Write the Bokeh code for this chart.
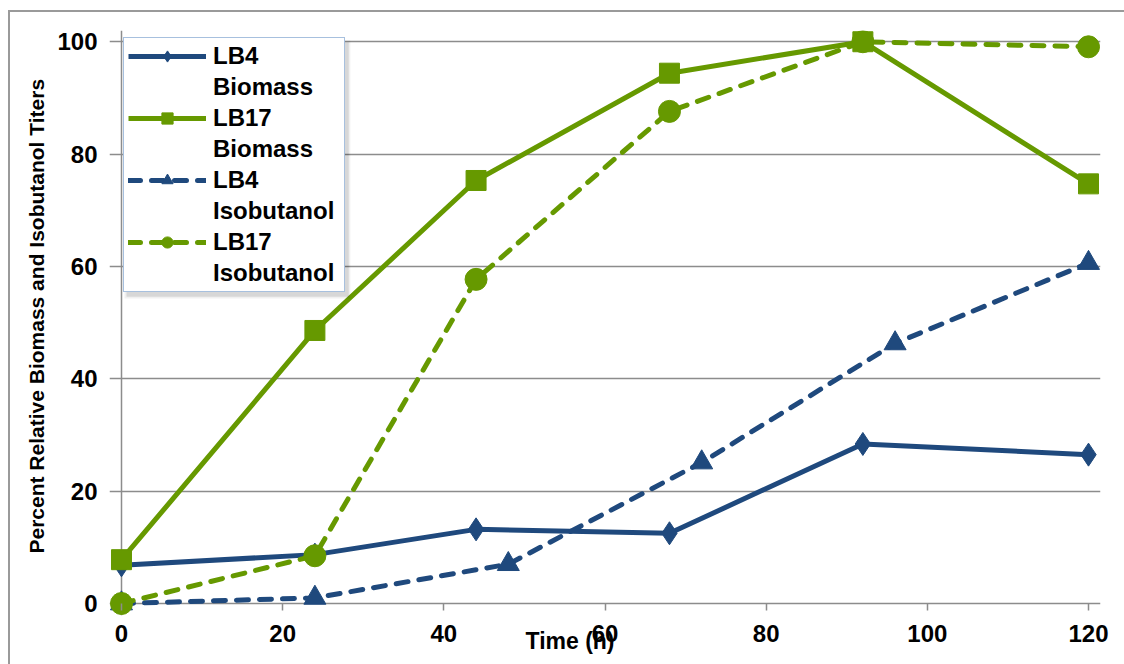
from bokeh.plotting import figure
from bokeh.models import (Range1d, FixedTicker, Legend, LegendItem, BoxAnnotation, Title)
from bokeh.embed import file_html
from bokeh.resources import INLINE

# Sampling times (h) and relative values (%)
time_biomass = [0, 24, 44, 68, 92, 120]
time_lb4_iso = [0, 24, 48, 72, 96, 120]
time_lb17_iso = [0, 24, 44, 68, 92, 120]

lb4_biomass = [6.8, 8.7, 13.2, 12.5, 28.4, 26.5]
lb17_biomass = [7.8, 48.6, 75.3, 94.4, 100.0, 74.7]
lb4_isobutanol = [0.0, 1.0, 7.0, 25.1, 46.3, 60.6]
lb17_isobutanol = [0.0, 8.5, 57.7, 87.6, 100.0, 99.1]

x_ticks = [0, 20, 40, 60, 80, 100, 120]
y_ticks = [0, 20, 40, 60, 80, 100]

BLUE = "#1F497D"
GREEN = "#669900"
GRAY = "#8C8C8C"
FONT = "Liberation Sans"

# the frame reaches a little past 0..120 and below 0 so the end markers stay whole
p = figure(width=1124, height=664, x_range=Range1d(-1.489, 121.489), y_range=Range1d(-2.136, 102),
           output_backend="svg", toolbar_location=None,
           min_border_left=109, min_border_right=24, min_border_top=30, min_border_bottom=49)
p.outline_line_color = None
p.background_fill_color = "white"
p.border_fill_alpha = 0
p.styles = {
    "background": "linear-gradient(#9A9A9A, #9A9A9A) 8px 10px / 2px 100% no-repeat, "
                  "linear-gradient(#9A9A9A, #9A9A9A) 8px 10px / 100% 2px no-repeat, white",
}

# horizontal grid (the line at 0 doubles as the time axis line)
p.ygrid.ticker = FixedTicker(ticks=y_ticks)
p.ygrid.grid_line_color = GRAY
p.ygrid.grid_line_width = 1.5
# vertical line at t = 0 serves as the value axis line
p.xgrid.ticker = FixedTicker(ticks=[0])
p.xgrid.grid_line_color = GRAY
p.xgrid.grid_line_width = 1.5

for ax in (p.xaxis[0], p.yaxis[0]):
    ax.axis_line_color = None
    ax.major_tick_line_color = GRAY
    ax.major_tick_line_width = 1.5
    ax.minor_tick_line_color = None
    ax.major_label_text_font = FONT
    ax.major_label_text_font_style = "bold"
    ax.major_label_text_font_size = "24px"
    ax.major_label_text_color = "black"

p.xaxis.ticker = FixedTicker(ticks=x_ticks)
p.xaxis.major_tick_in = 12
p.xaxis.major_tick_out = -5
p.xaxis.major_label_standoff = 9

p.yaxis.ticker = FixedTicker(ticks=y_ticks)
p.yaxis.bounds = (0, 102)
p.yaxis.major_tick_line_color = None
p.yaxis.major_tick_in = 0
p.yaxis.major_tick_out = 0
p.yaxis.major_label_standoff = 12

# value-axis title, running from just above the zero line
p.add_layout(Title(text="Percent Relative Biomass and Isobutanol Titers", align="left",
                   offset=62, vertical_align="middle", standoff=12, text_font=FONT,
                   text_font_style="bold", text_font_size="21px", text_color="black"), "left")

# time title, tucked up against the tick labels
p.add_layout(Title(text="Time (h)", align="left", offset=416, vertical_align="top",
                   standoff=-34, text_font=FONT, text_font_style="bold",
                   text_font_size="23px", text_color="black"), "below")

dash = "12 11"

# series, drawn so the LB17 curves sit on top
l_b4 = p.line(time_biomass, lb4_biomass, line_color=BLUE, line_width=5, line_join="round")
s_b4 = p.scatter(time_biomass, lb4_biomass, marker="diamond", size=23, color=BLUE)

l_i4 = p.line(time_lb4_iso, lb4_isobutanol, line_color=BLUE, line_width=5, line_dash=dash,
              line_cap="round", line_join="round")
s_i4 = p.scatter(time_lb4_iso, lb4_isobutanol, marker="triangle", size=22, color=BLUE)

l_i17 = p.line(time_lb17_iso, lb17_isobutanol, line_color=GREEN, line_width=5, line_dash=dash,
               line_cap="round", line_join="round")
s_i17 = p.scatter(time_lb17_iso, lb17_isobutanol, marker="circle", size=22, color=GREEN)

l_b17 = p.line(time_biomass, lb17_biomass, line_color=GREEN, line_width=5, line_join="round")
s_b17 = p.scatter(time_biomass, lb17_biomass, marker="square", size=20, color=GREEN)

# soft drop shadow under the legend box
p.add_layout(BoxAnnotation(left=0.37, right=28.4, top=100.2, bottom=54.3,
                           fill_color="black", fill_alpha=0.06, line_color=None))
p.add_layout(BoxAnnotation(left=0.62, right=28.2, top=99.9, bottom=54.6,
                           fill_color="black", fill_alpha=0.10, line_color=None))

# empty renderers that carry the second line of each legend entry
blank = [p.line(x=[], y=[], line_alpha=0) for _ in range(4)]

items = [
    LegendItem(label="LB4", renderers=[l_b4, s_b4]),
    LegendItem(label="Biomass", renderers=[blank[0]]),
    LegendItem(label="LB17", renderers=[l_b17, s_b17]),
    LegendItem(label="Biomass", renderers=[blank[1]]),
    LegendItem(label="LB4", renderers=[l_i4, s_i4]),
    LegendItem(label="Isobutanol", renderers=[blank[2]]),
    LegendItem(label="LB17", renderers=[l_i17, s_i17]),
    LegendItem(label="Isobutanol", renderers=[blank[3]]),
]
legend = Legend(items=items, location=(14, 323))
legend.label_text_font = FONT
legend.label_text_font_style = "bold"
legend.label_text_font_size = "24px"
legend.label_text_color = "black"
legend.label_height = 28
legend.label_width = 127
legend.glyph_height = 28
legend.glyph_width = 78
legend.label_standoff = 7
legend.spacing = 3
legend.padding = 4
legend.margin = 0
legend.border_line_color = "#4F81BD"
legend.border_line_width = 1.5
legend.background_fill_color = "white"
legend.background_fill_alpha = 1
p.add_layout(legend)

open("out.html", "w").write(file_html(p, INLINE))
